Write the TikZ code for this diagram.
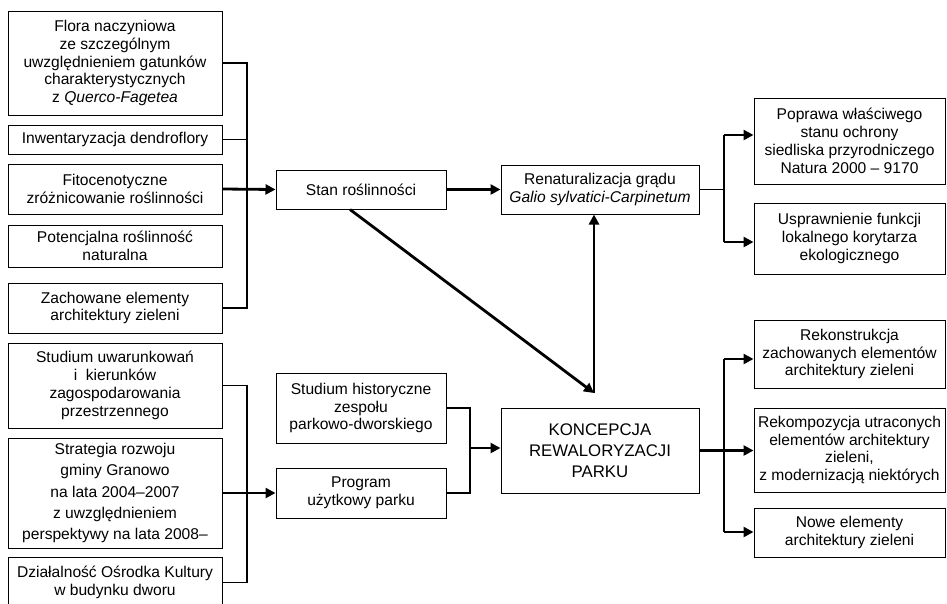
\documentclass[tikz,border=0pt]{standalone}
\usepackage{fontspec}
\setmainfont{Liberation Sans}
\usetikzlibrary{arrows.meta}
\begin{document}
\begin{tikzpicture}[x=1pt,y=-1pt,
  box/.style={draw=black, line width=1pt, rectangle, inner sep=0pt, align=center,
              font=\fontsize{15.6pt}{17.8pt}\selectfont},
  leftbox/.style={box, minimum width=214pt},
  midbox/.style={box, minimum width=170pt},
  cbox/.style={box, minimum width=198pt},
  rightbox/.style={box, minimum width=191pt},
  thinln/.style={line width=1.1pt},
  thickar/.style={line width=2.8pt, -{Triangle[length=10pt,width=10pt]}}]
\useasboundingbox (0,0) rectangle (947,603);
\clip (0,0) rectangle (947,603);

% left column, upper group
\node[leftbox, minimum height=104pt] (flora) at (115,63)
  {Flora naczyniowa\\ze szczególnym\\uwzględnieniem gatunków\\charakterystycznych\\z \textit{Querco-Fagetea}};
\node[leftbox, minimum height=29pt] (inw) at (115,139.5) {Inwentaryzacja dendroflory};
\node[leftbox, minimum height=50pt] (fito) at (115,189) {Fitocenotyczne\\zróżnicowanie roślinności};
\node[leftbox, minimum height=42pt] (poten) at (115,246) {Potencjalna roślinność\\naturalna};
\node[leftbox, minimum height=50pt] (zach) at (115,308) {Zachowane elementy\\architektury zieleni};

% left column, lower group
\node[leftbox, minimum height=85pt] (studuw) at (115,385.5)
  {Studium uwarunkowań\\i \ kierunków\\zagospodarowania\\przestrzennego};
\node[leftbox, minimum height=110pt, font=\fontsize{15.6pt}{21.2pt}\selectfont] (strat) at (115,493)
  {Strategia rozwoju\\gminy Granowo\\na lata 2004–2007\\z uwzględnieniem\\perspektywy na lata 2008–};
\node[leftbox, minimum height=51pt] (dzial) at (115,582.5)
  {Działalność Ośrodka Kultury\\w budynku dworu};

% middle column
\node[midbox, minimum height=39pt] (stan) at (361,189.5) {Stan roślinności};
\node[midbox, minimum height=70pt] (studh) at (361,408) {Studium historyczne\\zespołu\\parkowo-dworskiego};
\node[midbox, minimum height=50pt] (prog) at (361,493) {Program\\użytkowy parku};

% centre column
\node[cbox, minimum height=49pt] (renat) at (600,189.5)
  {Renaturalizacja grądu\\\textit{Galio sylvatici-Carpinetum}};
\node[cbox, minimum height=85pt, font=\fontsize{16.8pt}{20.8pt}\selectfont] (konc) at (600,450.5)
  {KONCEPCJA\\REWALORYZACJI\\PARKU};

% right column
\node[rightbox, minimum height=86pt] (poprawa) at (849.5,141)
  {Poprawa właściwego\\stanu ochrony\\siedliska przyrodniczego\\Natura 2000 – 9170};
\node[rightbox, minimum height=71pt] (uspraw) at (849.5,238.5)
  {Usprawnienie funkcji\\lokalnego korytarza\\ekologicznego};
\node[rightbox, minimum height=68pt] (rekon) at (849.5,354)
  {Rekonstrukcja\\zachowanych elementów\\architektury zieleni};
\node[rightbox, minimum height=84pt] (rekomp) at (849.5,450)
  {Rekompozycja utraconych\\elementów architektury\\zieleni,\\z modernizacją niektórych};
\node[rightbox, minimum height=49pt] (nowe) at (849.5,532.5)
  {Nowe elementy\\architektury zieleni};

% left buses
\coordinate (bx1) at (247,0);
\draw[thinln] (flora.east) -- (flora.east -| bx1) -- (zach.east -| bx1) -- (zach.east);
\draw[thinln] (inw.east) -- (inw.east -| bx1);
\draw[thickar] (fito.east) -- (stan.west);
\draw[thinln] (studuw.east) -- (studuw.east -| bx1) -- (dzial.east -| bx1) -- (dzial.east);
\draw[thickar] (strat.east) -- (prog.west);

% middle bus
\coordinate (bx2) at (470,0);
\coordinate (j2) at (470,448);
\draw[thinln] (studh.east) -- (studh.east -| bx2) -- (prog.east -| bx2) -- (prog.east);
\draw[thickar] (j2) -- (konc.west |- j2);

% stan -> renat, stan -> meet -> renat
\draw[thickar] (stan.east) -- (renat.west);
\coordinate (meet) at (594,393);
\draw[thickar] ([xshift=-11pt]stan.south) -- (meet);
\draw[thickar] (meet) -- (renat.south -| meet);

% right top
\coordinate (bx3) at (724,0);
\coordinate (r1) at (724,135);
\coordinate (r2) at (724,242);
\draw[thinln] (renat.east) -- (renat.east -| bx3);
\draw[thinln] (r1) -- (r2);
\draw[thickar] (r1) -- (poprawa.west |- r1);
\draw[thickar] (r2) -- (uspraw.west |- r2);

% right bottom
\coordinate (r3) at (724,359);
\coordinate (r5) at (724,532);
\draw[thinln] (r3) -- (r5);
\draw[thickar] (r3) -- (rekon.west |- r3);
\draw[thickar] (r5) -- (nowe.west |- r5);
\draw[thickar] (konc.east) -- (rekomp.west |- konc.east);
\end{tikzpicture}
\end{document}
